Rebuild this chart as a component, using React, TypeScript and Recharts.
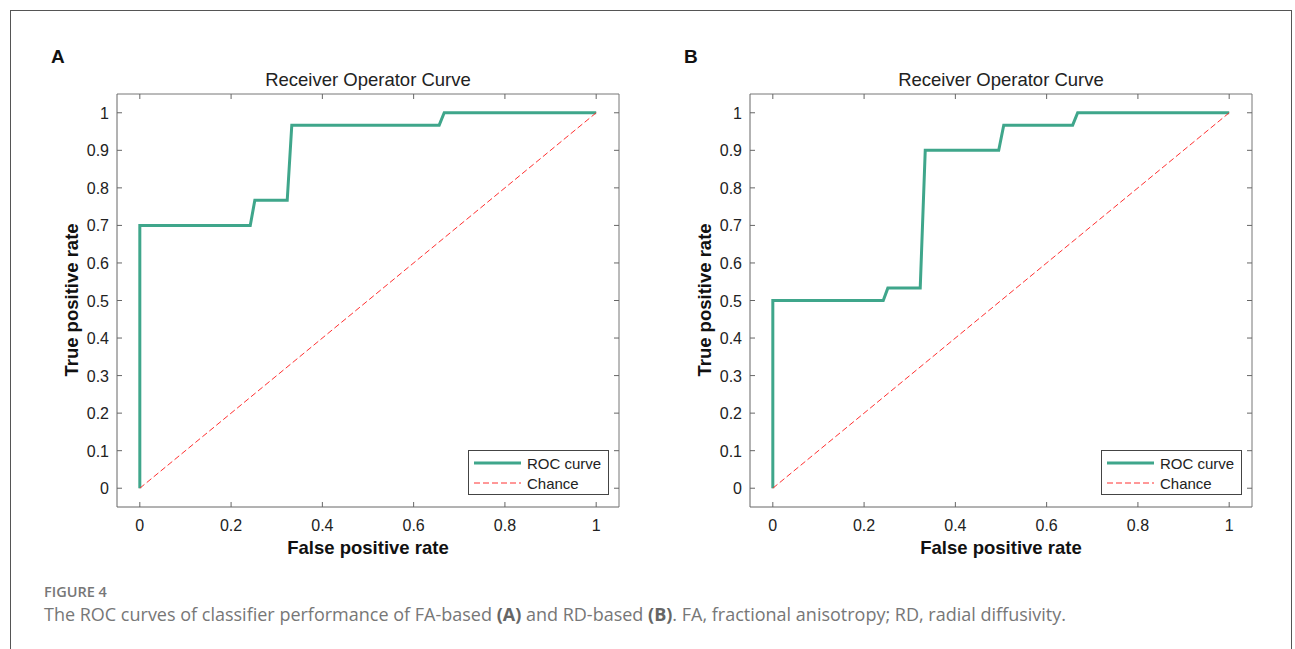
import { LineChart, Line, XAxis, YAxis } from "recharts";

// panel A (FA-based)
const rocAX = [0, 0, 0.242, 0.252, 0.323, 0.333, 0.656, 0.667, 1];
const rocAY = [0, 0.7, 0.7, 0.767, 0.767, 0.967, 0.967, 1, 1];
// panel B (RD-based)
const rocBX = [0, 0, 0.242, 0.252, 0.323, 0.334, 0.495, 0.506, 0.657, 0.668, 1];
const rocBY = [0, 0.5, 0.5, 0.533, 0.533, 0.9, 0.9, 0.967, 0.967, 1, 1];
const chanceX = [0, 1];
const chanceY = [0, 1];

const xTicks = [0, 0.2, 0.4, 0.6, 0.8, 1];
const yTicks = [0, 0.1, 0.2, 0.3, 0.4, 0.5, 0.6, 0.7, 0.8, 0.9, 1];

const ROC_COLOR = "#3fa68b";
const CHANCE_COLOR = "#ff3030";
const AXIS_COLOR = "#666";
const FONT = "'Liberation Sans', Arial, Helvetica, sans-serif";

const toPoints = (xs: number[], ys: number[]) => xs.map((x, i) => ({ x, y: ys[i] }));

const BottomTick = (props: any) => {
  const { x, y, payload } = props;
  return (
    <g>
      <line x1={x} y1={y} x2={x} y2={y - 5} stroke={AXIS_COLOR} />
      <text x={x} y={y + 24} textAnchor="middle" fontSize={16} fontFamily={FONT} fill="#222">
        {String(payload.value)}
      </text>
    </g>
  );
};

const LeftTick = (props: any) => {
  const { x, y, payload } = props;
  return (
    <g>
      <line x1={x} y1={y} x2={x + 5} y2={y} stroke={AXIS_COLOR} />
      <text x={x - 8} y={y + 6} textAnchor="end" fontSize={16} fontFamily={FONT} fill="#222">
        {String(payload.value)}
      </text>
    </g>
  );
};

const TopTick = (props: any) => (
  <line x1={props.x} y1={props.y} x2={props.x} y2={props.y + 5} stroke={AXIS_COLOR} />
);

const RightTick = (props: any) => (
  <line x1={props.x} y1={props.y} x2={props.x - 5} y2={props.y} stroke={AXIS_COLOR} />
);

const legendItems = [
  { name: "ROC curve", color: ROC_COLOR, width: 3, dash: "" },
  { name: "Chance", color: CHANCE_COLOR, width: 1, dash: "6 3" },
];

function RocPanel({ left, letter, xs, ys }: { left: number; letter: string; xs: number[]; ys: number[] }) {
  const W = 650;
  const H = 560;
  return (
    <div style={{ position: "absolute", left, top: 0, width: W, height: H }}>
      <div style={{ position: "absolute", left: 51, top: 46, fontFamily: FONT, fontWeight: 700, fontSize: 19, color: "#111" }}>
        {letter}
      </div>
      <div style={{ position: "absolute", left: 117, width: 502, top: 69, textAlign: "center", fontFamily: FONT, fontSize: 18.5, color: "#222" }}>
        Receiver Operator Curve
      </div>
      <div style={{ position: "absolute", left: 117, width: 502, top: 537, textAlign: "center", fontFamily: FONT, fontWeight: 700, fontSize: 18.5, color: "#111" }}>
        False positive rate
      </div>
      <div
        style={{
          position: "absolute",
          left: 72,
          top: 300,
          transform: "translate(-50%, -50%) rotate(-90deg)",
          whiteSpace: "nowrap",
          fontFamily: FONT,
          fontWeight: 700,
          fontSize: 18.5,
          color: "#111",
        }}
      >
        True positive rate
      </div>
      <LineChart width={W} height={H} margin={{ top: 89, right: 26, bottom: 23, left: 57 }}>
        <XAxis
          xAxisId="b"
          dataKey="x"
          type="number"
          domain={[-0.05, 1.05]}
          ticks={xTicks}
          allowDataOverflow
          height={30}
          tickSize={0}
          tickMargin={0}
          tickLine={false}
          axisLine={{ stroke: AXIS_COLOR }}
          tick={<BottomTick />}
        />
        <XAxis
          xAxisId="t"
          orientation="top"
          dataKey="x"
          type="number"
          domain={[-0.05, 1.05]}
          ticks={xTicks}
          allowDataOverflow
          height={5}
          tickSize={0}
          tickMargin={0}
          tickLine={false}
          axisLine={{ stroke: "#777" }}
          tick={<TopTick />}
        />
        <YAxis
          yAxisId="l"
          type="number"
          domain={[-0.05, 1.05]}
          ticks={yTicks}
          allowDataOverflow
          width={60}
          tickSize={0}
          tickMargin={0}
          tickLine={false}
          axisLine={{ stroke: AXIS_COLOR }}
          tick={<LeftTick />}
        />
        <YAxis
          yAxisId="r"
          orientation="right"
          type="number"
          domain={[-0.05, 1.05]}
          ticks={yTicks}
          allowDataOverflow
          width={5}
          tickSize={0}
          tickMargin={0}
          tickLine={false}
          axisLine={{ stroke: "#777" }}
          tick={<RightTick />}
        />
        <Line
          xAxisId="b"
          yAxisId="l"
          data={toPoints(xs, ys)}
          dataKey="y"
          type="linear"
          stroke={ROC_COLOR}
          strokeWidth={3}
          dot={false}
          isAnimationActive={false}
        />
        <Line
          xAxisId="b"
          yAxisId="l"
          data={toPoints(chanceX, chanceY)}
          dataKey="y"
          type="linear"
          stroke={CHANCE_COLOR}
          strokeWidth={1}
          strokeDasharray="6 3"
          dot={false}
          isAnimationActive={false}
        />
      </LineChart>
      <div
        style={{
          position: "absolute",
          left: 468,
          top: 450,
          width: 139,
          height: 43,
          border: "1px solid #444",
          background: "#fff",
          fontFamily: FONT,
          fontSize: 15,
          color: "#222",
        }}
      >
        {legendItems.map((it, i) => (
          <div key={it.name} style={{ position: "absolute", left: 5, top: 2 + i * 20, height: 20, display: "flex", alignItems: "center" }}>
            <svg width={48} height={8} style={{ marginRight: 5 }}>
              <line x1={0} y1={4} x2={47} y2={4} stroke={it.color} strokeWidth={it.width} strokeDasharray={it.dash} />
            </svg>
            {it.name}
          </div>
        ))}
      </div>
    </div>
  );
}

export default function App() {
  return (
    <div style={{ position: "absolute", left: 0, top: 0, width: 1295, height: 649, background: "#fff", overflow: "hidden" }}>
      <div
        style={{
          position: "absolute",
          left: 10,
          top: 10,
          width: 1282,
          height: 700,
          border: "1.5px solid #555",
          boxSizing: "border-box",
        }}
      />
      <RocPanel left={0} letter="A" xs={rocAX} ys={rocAY} />
      <RocPanel left={633} letter="B" xs={rocBX} ys={rocBY} />
      <div style={{ position: "absolute", left: 44, top: 582, fontFamily: "'Open Sans', sans-serif", fontWeight: 600, fontSize: 14.5, color: "#777" }}>
        FIGURE 4
      </div>
      <div style={{ position: "absolute", left: 44, top: 602, fontFamily: "'Open Sans', sans-serif", fontSize: 18, color: "#777" }}>
        The ROC curves of classifier performance of FA-based <b style={{ color: "#666" }}>(A)</b> and RD-based{" "}
        <b style={{ color: "#666" }}>(B)</b>. FA, fractional anisotropy; RD, radial diffusivity.
      </div>
    </div>
  );
}
